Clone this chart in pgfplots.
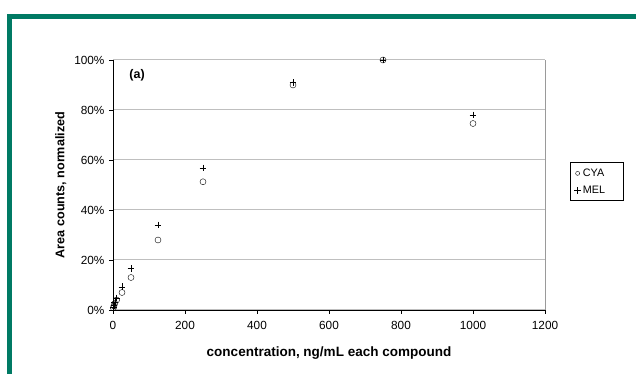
\documentclass[border=0pt]{standalone}
\usepackage{pgfplots}
\pgfplotsset{compat=1.18}
\usepackage{fontspec}
\setmainfont{Liberation Sans}
\definecolor{frame}{HTML}{007A64}
\definecolor{grid}{HTML}{9A9A9A}
\begin{document}
\begin{tikzpicture}
\useasboundingbox (0pt,0pt) rectangle (636pt,374pt);
\fill[frame] (7pt,0pt) rectangle (12pt,360pt);
\fill[frame] (7pt,355pt) rectangle (636pt,360pt);
\begin{axis}[
  at={(113pt,64pt)}, anchor=origin,
  scale only axis, width=432pt, height=250pt,
  xmin=0, xmax=1200, ymin=0, ymax=100,
  axis lines*=left,
  axis line style={black, line width=0.8pt},
  xtick={0,200,...,1200},
  ytick={0,20,...,100},
  yticklabels={0\%,20\%,40\%,60\%,80\%,100\%},
  tick align=outside, major tick length=4pt,
  tick style={black, line width=0.6pt},
  xmajorgrids=false, ymajorgrids=true, grid style={grid, line width=1pt},
  /pgf/number format/assume math mode=true,
  /pgf/number format/1000 sep={},
  tick label style={font=\fontsize{11.8}{13}\selectfont},
  xticklabel style={yshift=-4pt},
  yticklabel style={xshift=-1pt},
  xlabel={\textbf{concentration, ng/mL each compound}},
  ylabel={\textbf{Area counts, normalized}},
  xlabel style={font=\fontsize{13.5}{15}\selectfont, yshift=-10pt},
  ylabel style={font=\fontsize{12.6}{15}\selectfont, yshift=1pt},
  clip=false,
  legend style={at={(1.058,0.59)}, anchor=north west, draw=black, line width=0.7pt,
    font=\fontsize{10.8}{13}\selectfont, inner xsep=4pt, inner ysep=4pt, row sep=4pt,
    legend cell align=left},
]
\draw[grid, line width=1pt] (rel axis cs:1,0) -- (rel axis cs:1,1);
\addplot[only marks, mark=o, mark size=3pt, black, thin,
  legend image code/.code={\draw[mark size=2pt] plot coordinates {(0.1cm,0cm)};}] coordinates {
(1,0.8) (2.5,1.6) (5,2.6) (10,4.0) (25,7.0) (50,13.0) (125,28.0) (250,51.3) (500,90.0) (750,100) (1000,74.6)};
\addlegendentry{CYA\hspace*{12pt}}
\addplot[only marks, mark=+, mark size=3.4pt, black, thin,
  legend image code/.code={\draw[mark size=3.2pt] plot coordinates {(0.1cm,0cm)};}] coordinates {
(1,1.0) (2.5,1.8) (5,3.0) (10,4.8) (25,9.3) (50,16.6) (125,34.0) (250,56.8) (500,91.0) (750,100) (1000,78.0)};
\addlegendentry{MEL\hspace*{12pt}}
\node[anchor=west, font=\bfseries\fontsize{12.5}{14}\selectfont] at (axis cs:36,94) {(a)};
\end{axis}
\end{tikzpicture}
\end{document}
